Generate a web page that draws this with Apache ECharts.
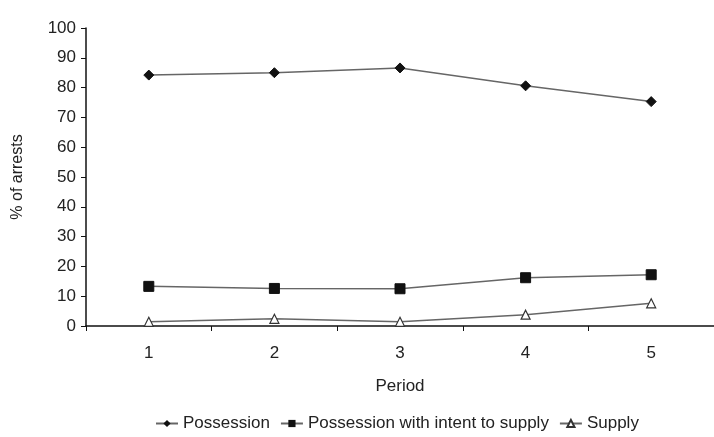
<!DOCTYPE html>
<html><head><meta charset="utf-8">
<script src="https://cdn.jsdelivr.net/npm/echarts@6/dist/echarts.min.js"></script>
<style>html,body{margin:0;padding:0;background:#fff}#c{width:714px;height:437px}</style>
</head><body><div id="c"></div>
<script>
const categories = ['1','2','3','4','5'];
const possession = [84.2, 85, 86.6, 80.6, 75.3];
const intentToSupply = [13.3, 12.6, 12.5, 16.2, 17.2];
const supply = [1.4, 2.4, 1.4, 3.8, 7.6];
const yTicks = {min: 0, max: 100, interval: 10};

const font = 'Liberation Sans, Arial, sans-serif';
const lineStyle = {color: '#666', width: 1.5};
const chart = echarts.init(document.getElementById('c'));
chart.setOption({
  animation: false,
  textStyle: {fontFamily: font},
  grid: {left: 86, right: 0, top: 28, bottom: 111},
  xAxis: {
    type: 'category', data: categories, boundaryGap: true,
    name: 'Period', nameLocation: 'middle', nameGap: 52,
    nameTextStyle: {fontSize: 17, color: '#222', fontFamily: font},
    axisLine: {lineStyle: {color: '#111', width: 1.5}},
    axisTick: {show: true, alignWithLabel: false, length: 5, lineStyle: {color: '#111'}},
    axisLabel: {fontSize: 17, color: '#222', margin: 19, fontFamily: font}
  },
  yAxis: {
    type: 'value', min: yTicks.min, max: yTicks.max, interval: yTicks.interval,
    name: '% of arrests', nameLocation: 'middle', nameGap: 60, nameRotate: 90,
    nameTextStyle: {fontSize: 16, color: '#222', fontFamily: font},
    axisLine: {show: true, lineStyle: {color: '#111', width: 1.5}},
    axisTick: {show: true, length: 5, lineStyle: {color: '#111'}},
    axisLabel: {fontSize: 17, color: '#222', margin: 10, fontFamily: font},
    splitLine: {show: false}
  },
  legend: {
    bottom: 0, left: 150, itemGap: 10, itemWidth: 22, itemHeight: 9,
    textStyle: {fontSize: 17, color: '#222', fontFamily: font},
    data: ['Possession', 'Possession with intent to supply', 'Supply']
  },
  series: [
    {name: 'Possession', type: 'line', data: possession, symbol: 'diamond', symbolSize: 10,
     lineStyle: lineStyle, itemStyle: {color: '#111', borderColor: '#111'}},
    {name: 'Possession with intent to supply', type: 'line', data: intentToSupply, symbol: 'rect', symbolSize: 10,
     lineStyle: lineStyle, itemStyle: {color: '#111', borderColor: '#111'}},
    {name: 'Supply', type: 'line', data: supply, symbol: 'triangle', symbolSize: 9,
     lineStyle: lineStyle, itemStyle: {color: '#fff', borderColor: '#333', borderWidth: 1.2}}
  ]
});
</script></body></html>
